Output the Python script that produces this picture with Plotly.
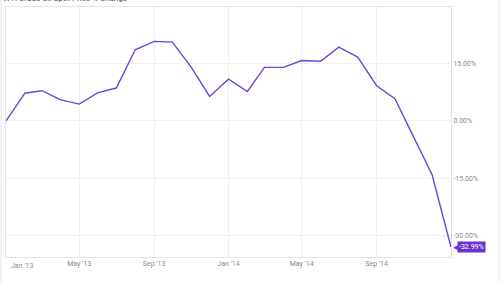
import plotly.graph_objects as go

dates = [
    "2013-01-01", "2013-02-01", "2013-03-01", "2013-04-01", "2013-05-01",
    "2013-06-01", "2013-07-01", "2013-08-01", "2013-09-01", "2013-10-01",
    "2013-11-01", "2013-12-01", "2014-01-01", "2014-02-01", "2014-03-01",
    "2014-04-01", "2014-05-01", "2014-06-01", "2014-07-01", "2014-08-01",
    "2014-09-01", "2014-10-01", "2014-11-01", "2014-12-01", "2015-01-01",
]
pct_change = [
    0.0, 7.25, 7.9, 5.5, 4.4, 7.4, 8.6, 18.6, 20.8, 20.6,
    14.0, 6.4, 10.9, 7.7, 14.0, 14.0, 15.8, 15.6, 19.3, 16.7,
    9.2, 5.8, -4.3, -14.1, -32.99,
]
x_tickvals = ["2013-01-01", "2013-05-01", "2013-09-01", "2014-01-01", "2014-05-01", "2014-09-01"]
x_ticktext = ["", "May '13", "Sep '13", "Jan '14", "May '14", "Sep '14"]
first_tick_label = "Jan '13"
y_tickvals = [-30, -15, 0, 15]
y_ticktext = ["-30.00%", "-15.00%", "0.00%", "15.00%"]
title_text = "WTI Crude Oil Spot Price % Change"

LINE = "#7143d9"
TAG = "#6a32d0"
GRID = "#f1f1f1"
FRAME = "#e2e2e2"
TICK = "#8a8a8a"
FONT = "Roboto"

fig = go.Figure()
fig.add_trace(go.Scatter(
    x=dates, y=pct_change, mode="lines",
    line=dict(color=LINE, width=1.4), hoverinfo="skip", showlegend=False,
))

annotations = [
    dict(x=dates[-1], y=pct_change[-1], xref="x", yref="y",
         text="\u25c0", showarrow=False, xanchor="left", xshift=0, yshift=0,
         font=dict(family="DejaVu Sans", size=9, color=TAG)),
    dict(x=dates[-1], y=pct_change[-1], xref="x", yref="y",
         text=f"{pct_change[-1]:.2f}%", showarrow=False,
         xanchor="left", xshift=6, bgcolor=TAG, borderpad=1,
         font=dict(family=FONT, size=7, color="white")),
    dict(x=x_tickvals[0], y=0, xref="x", yref="paper", text=first_tick_label,
         showarrow=False, xanchor="left", yanchor="top", xshift=3, yshift=-3,
         font=dict(family=FONT, size=7, color=TICK)),
    dict(x=0, y=1, xref="paper", yref="paper", text=title_text, showarrow=False,
         xanchor="left", yanchor="bottom", xshift=-5, yshift=2,
         font=dict(family=FONT, size=8, color="#555")),
]

fig.update_layout(
    template="none",
    width=500, height=282,
    margin=dict(l=6, r=49, t=7, b=25),
    paper_bgcolor="white", plot_bgcolor="white",
    font=dict(family=FONT, size=7, color=TICK),
    annotations=annotations,
    shapes=[
        dict(type="line", xref="paper", yref="paper", x0=-0.0112, x1=-0.0112, y0=-0.2, y1=1.1,
             line=dict(color="#e6e6e6", width=1)),
        dict(type="line", xref="paper", yref="paper", x0=1.1079, x1=1.1079, y0=-0.2, y1=1.1,
             line=dict(color="#e6e6e6", width=1)),
    ],
)
fig.update_xaxes(
    range=[dates[0], dates[-1]], tickvals=x_tickvals, ticktext=x_ticktext,
    showgrid=True, gridcolor=GRID, gridwidth=1,
    showline=True, linecolor=FRAME, linewidth=1, mirror=True,
    ticks="", tickfont=dict(family=FONT, size=7, color=TICK), zeroline=False,
)
fig.update_yaxes(
    side="right", range=[-35.6, 29.8], tickvals=y_tickvals, ticktext=y_ticktext,
    showgrid=True, gridcolor=GRID, gridwidth=1,
    showline=True, linecolor=FRAME, linewidth=1, mirror=True,
    ticks="", tickfont=dict(family=FONT, size=7, color=TICK), zeroline=False,
)

fig.write_html("out.html")
